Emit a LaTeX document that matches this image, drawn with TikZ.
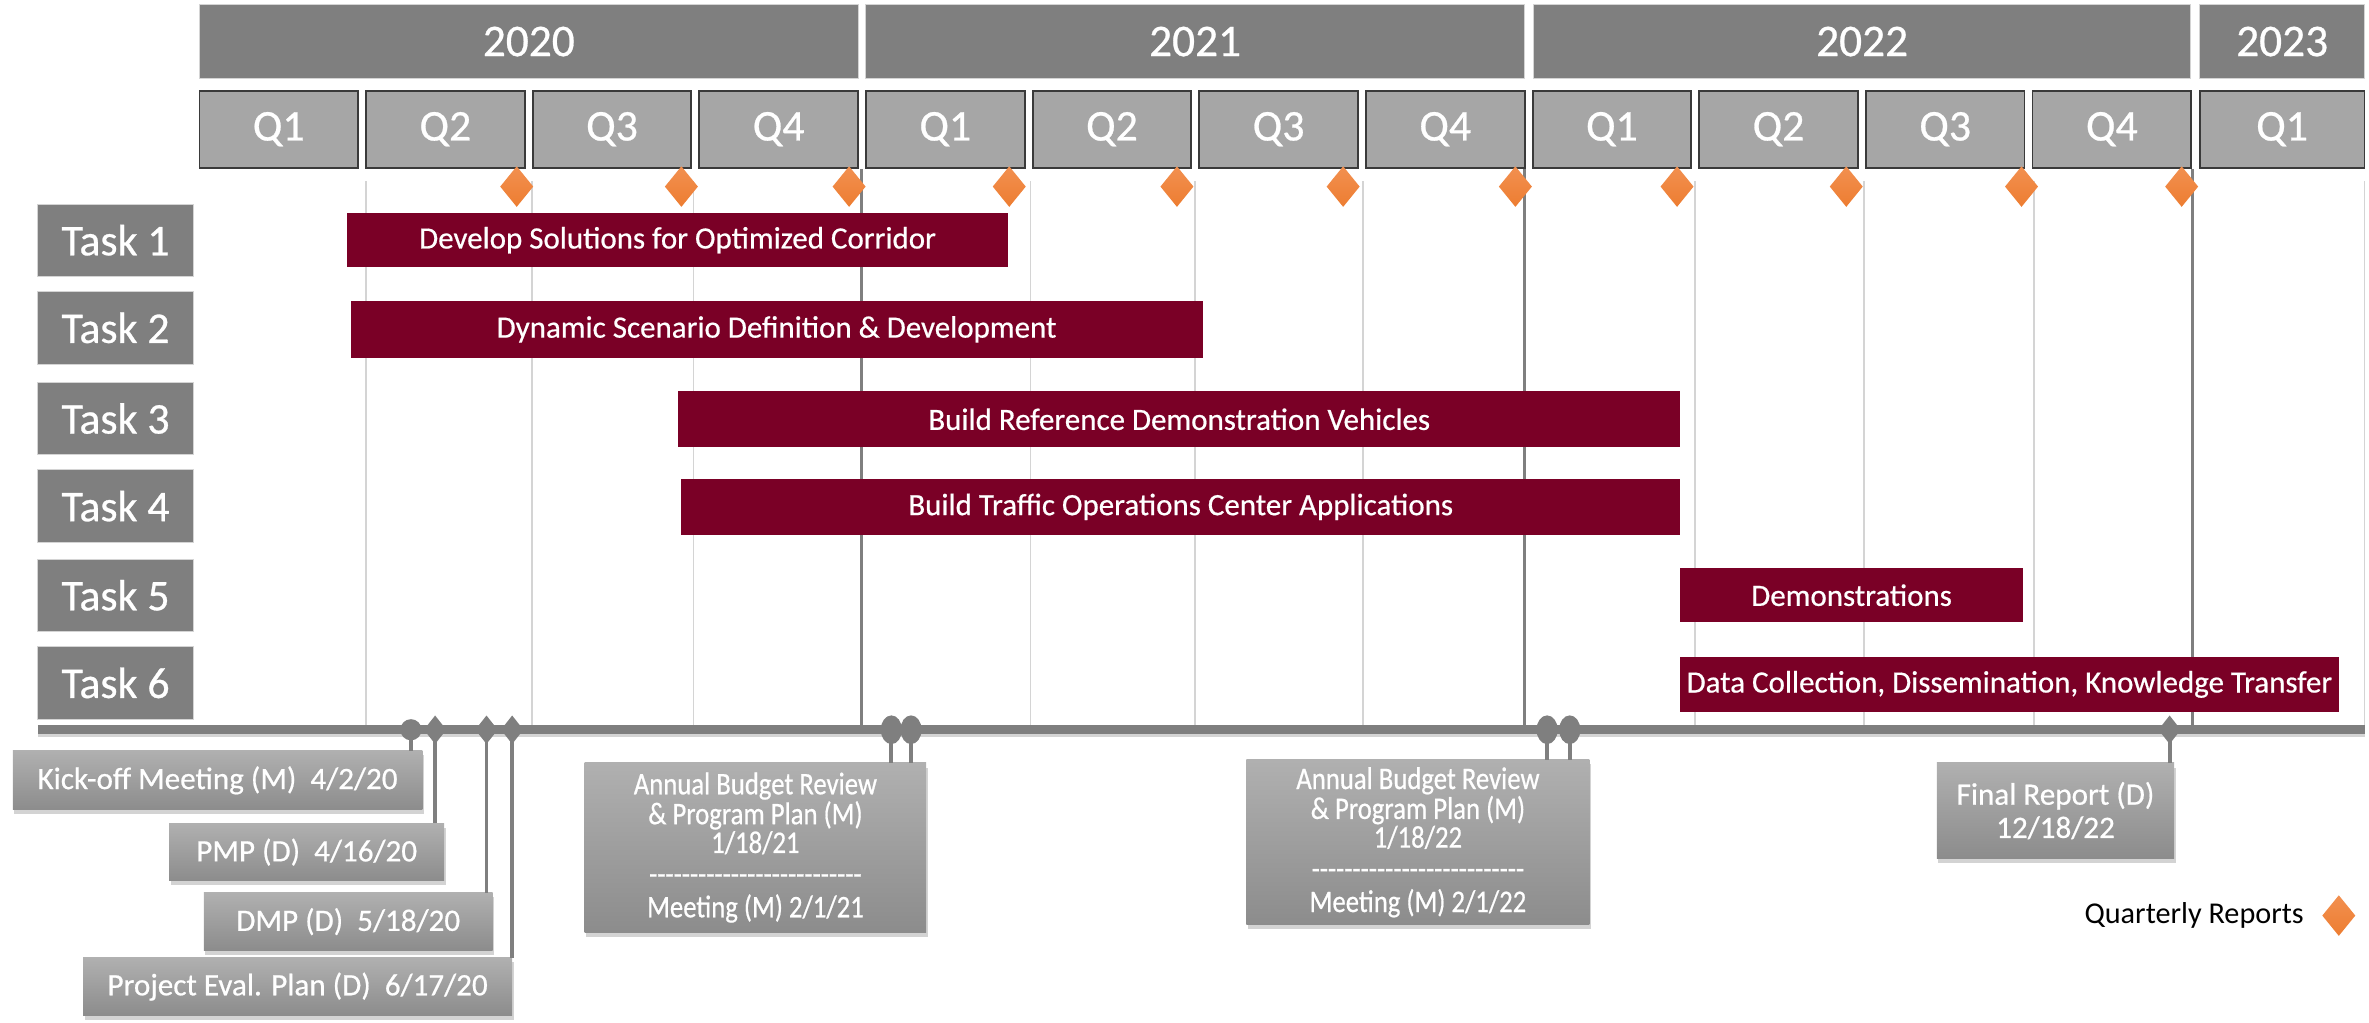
\documentclass[tikz,border=0pt]{standalone}
\usepackage{fontspec}
\setmainfont{Carlito}[Ligatures=TeXOff]
\newfontfamily\wfont{Carlito}[Ligatures=TeXOff, FakeBold=0.6]
\newfontfamily\wcond{Carlito}[Ligatures=TeXOff, FakeBold=0.6, FakeStretch=0.85]
\usetikzlibrary{shapes.geometric,shadows}
\definecolor{yeargray}{HTML}{7F7F7F}
\definecolor{qgray}{HTML}{A6A6A6}
\definecolor{qborder}{HTML}{3A3A3A}
\definecolor{barred}{HTML}{7A0026}
\definecolor{qorange}{HTML}{ED7D31}
\definecolor{qorangelt}{HTML}{F29050}
\definecolor{gridlt}{HTML}{D4D4D4}
\definecolor{msTop}{HTML}{B0B0B0}
\definecolor{msBot}{HTML}{8C8C8C}
\begin{document}
\begin{tikzpicture}[x=1pt,y=-1pt,
  yearbox/.style={fill=yeargray, draw=gridlt, line width=0.8pt, text=white,
    font=\wfont\fontsize{30}{36}\selectfont, minimum height=49pt, inner sep=0pt},
  qbox/.style={fill=qgray, draw=qborder, line width=1.2pt, text=white,
    font=\wfont\fontsize{29}{34}\selectfont, minimum width=105pt, minimum height=51pt, inner sep=0pt},
  tasklabel/.style={fill=yeargray, draw=gridlt, line width=0.5pt, text=white,
    font=\wfont\fontsize{29}{34}\selectfont, minimum width=103pt, minimum height=48pt, inner sep=0pt},
  taskbar/.style={fill=barred, text=white, font=\wfont\fontsize{20.5}{24}\selectfont, inner sep=0pt},
  msbox/.style={top color=msTop, bottom color=msBot, text=white,
    font=\wfont\fontsize{20.6}{22}\selectfont, align=center, inner sep=0pt,
    drop shadow={opacity=0.35, shadow xshift=1pt, shadow yshift=-3pt}},
  abrbox/.style={msbox, font=\wcond\fontsize{20.8}{17.8}\selectfont},
  qrep/.style={diamond, top color=qorangelt, bottom color=qorange, draw=none,
    minimum width=22pt, minimum height=27pt, inner sep=0pt},
  mscirc/.style={circle, fill=yeargray, minimum size=14pt, inner sep=0pt},
  msdia/.style={diamond, fill=yeargray, minimum width=15pt, minimum height=19pt, inner sep=0pt},
  msell/.style={ellipse, fill=yeargray, minimum width=14pt, minimum height=19pt, inner sep=0pt},
  stem/.style={draw=yeargray, line width=2.6pt},
  gridq/.style={draw=gridlt, line width=1.2pt},
  gridy/.style={draw=yeargray, line width=2pt}
]
\useasboundingbox (0,0) rectangle (1568,677);

% grid lines
\foreach \gx in {242,352,459,682,791,902,1122,1234,1346,1565}
  \draw[gridq] (\gx,120) -- (\gx,483);
\foreach \gx in {570,1009,1451}
  \draw[gridy] (\gx,112) -- (\gx,483);

% years
\node[yearbox, minimum width=436pt] (y2020) at (350,27.5) {2020};
\node[yearbox, minimum width=436pt] (y2021) at (791,27.5) {2021};
\node[yearbox, minimum width=435pt] (y2022) at (1232.5,27.5) {2022};
\node[yearbox, minimum width=109pt] (y2023) at (1510.5,27.5) {2023};

% quarters
\node[qbox] (q1) at (184.5,85.5) {Q1};
\node[qbox] (q2) at (294.8,85.5) {Q2};
\node[qbox] (q3) at (405.1,85.5) {Q3};
\node[qbox] (q4) at (515.4,85.5) {Q4};
\node[qbox] (q5) at (625.7,85.5) {Q1};
\node[qbox] (q6) at (736.0,85.5) {Q2};
\node[qbox] (q7) at (846.3,85.5) {Q3};
\node[qbox] (q8) at (956.6,85.5) {Q4};
\node[qbox] (q9) at (1066.9,85.5) {Q1};
\node[qbox] (q10) at (1177.2,85.5) {Q2};
\node[qbox] (q11) at (1287.5,85.5) {Q3};
\node[qbox] (q12) at (1397.8,85.5) {Q4};
\node[qbox, minimum width=109pt] (q13) at (1510.5,85.5) {Q1};

% quarterly report diamonds
\foreach \dx [count=\di] in {342,451,562,668,779,889,1003,1110,1222,1338,1444}
  \node[qrep] (qr\di) at (\dx,123.5) {};

% task labels
\node[tasklabel] (t1) at (76.5,159) {Task 1};
\node[tasklabel] (t2) at (76.5,217) {Task 2};
\node[tasklabel] (t3) at (76.5,277) {Task 3};
\node[tasklabel] (t4) at (76.5,335) {Task 4};
\node[tasklabel] (t5) at (76.5,394) {Task 5};
\node[tasklabel] (t6) at (76.5,452) {Task 6};

% task bars
\node[taskbar, minimum width=437pt, minimum height=36pt] (b1) at (448.5,159) {Develop Solutions for Optimized Corridor};
\node[taskbar, minimum width=564pt, minimum height=38pt] (b2) at (514,218) {Dynamic Scenario Definition \& Development};
\node[taskbar, minimum width=663pt, minimum height=37pt] (b3) at (780.5,277.5) {Build Reference Demonstration Vehicles};
\node[taskbar, minimum width=661pt, minimum height=37pt] (b4) at (781.5,335.5) {Build Traffic Operations Center Applications};
\node[taskbar, minimum width=227pt, minimum height=36pt] (b5) at (1225.5,394) {Demonstrations};
\node[taskbar, minimum width=436pt, minimum height=36pt] (b6) at (1330,453) {Data Collection, Dissemination, Knowledge Transfer};

% baseline
\coordinate (bl) at (25,483);
\coordinate (br) at (1565,483);
\draw[draw=gridlt, line width=3pt] ([yshift=-3.5pt]bl) -- ([yshift=-3.5pt]br);
\draw[draw=yeargray, line width=6pt] (bl) -- (br);

% milestone boxes
\node[msbox, minimum width=271pt, minimum height=39pt] (kick) at (144,516.5) {Kick-off Meeting (M)\ \ 4/2/20};
\node[msbox, minimum width=182pt, minimum height=38pt] (pmp) at (203,564) {PMP (D)\ \ 4/16/20};
\node[msbox, minimum width=191pt, minimum height=38pt] (dmp) at (230.5,610) {DMP (D)\ \ 5/18/20};
\node[msbox, minimum width=284pt, minimum height=38pt] (eval) at (197,653) {Project Eval. Plan (D)\ \ 6/17/20};
\node[abrbox, minimum width=226pt, minimum height=112pt] (abr21) at (500,561)
  {Annual Budget Review\\ \& Program Plan (M)\\ 1/18/21\\[3pt] --------------------------\\[4pt] Meeting (M) 2/1/21};
\node[abrbox, minimum width=227pt, minimum height=109pt] (abr22) at (938.5,557.5)
  {Annual Budget Review\\ \& Program Plan (M)\\ 1/18/22\\[3pt] --------------------------\\[4pt] Meeting (M) 2/1/22};
\node[msbox, minimum width=157pt, minimum height=63pt] (final) at (1360.5,536.5) {Final Report (D)\\ 12/18/22};

% milestone markers
\coordinate (m1) at (272,483);
\coordinate (m2) at (288,483);
\coordinate (m3) at (322,483);
\coordinate (m4) at (339,483);
\coordinate (m5) at (590,483);
\coordinate (m6) at (603,483);
\coordinate (m7) at (1024,483);
\coordinate (m8) at (1039,483);
\coordinate (m9) at (1436,483);
\draw[stem] (m1) -- (m1 |- kick.north);
\draw[stem] (m2) -- (m2 |- pmp.north);
\draw[stem] (m3) -- (m3 |- dmp.north);
\draw[stem] (m4) -- (m4 |- eval.north);
\draw[stem] (m5) -- (m5 |- abr21.north);
\draw[stem] (m6) -- (m6 |- abr21.north);
\draw[stem] (m7) -- (m7 |- abr22.north);
\draw[stem] (m8) -- (m8 |- abr22.north);
\draw[stem] (m9) -- (m9 |- final.north);
\node[mscirc] (mk1) at (m1) {};
\node[msdia] (mk2) at (m2) {};
\node[msdia] (mk3) at (m3) {};
\node[msdia] (mk4) at (m4) {};
\node[msell] (mk5) at (m5) {};
\node[msell] (mk6) at (m6) {};
\node[msell] (mk7) at (m7) {};
\node[msell] (mk8) at (m8) {};
\node[msdia] (mk9) at (m9) {};

% legend
\node[anchor=east, text=black, font=\fontsize{20}{24}\selectfont, inner sep=0pt] (qleg) at (1525,606) {Quarterly Reports};
\node[qrep] (qlegd) at (1548,606) {};
\end{tikzpicture}
\end{document}
